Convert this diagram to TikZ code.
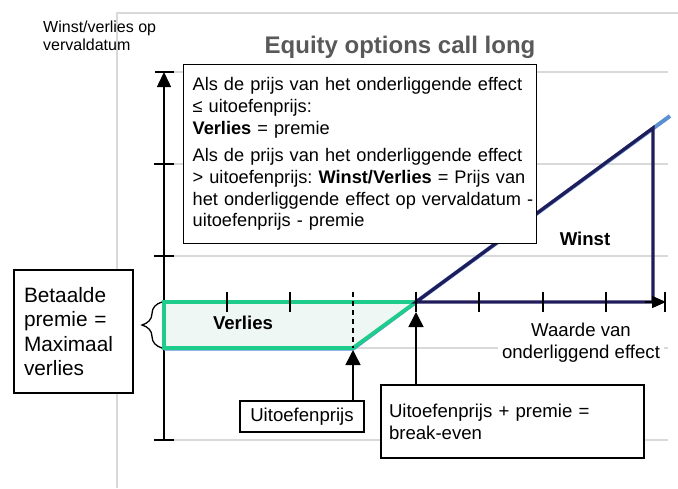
\documentclass[tikz,border=0pt]{standalone}
\usepackage{fontspec}
\setmainfont{Liberation Sans}
\usetikzlibrary{arrows.meta,decorations.pathreplacing}
\definecolor{gridgray}{RGB}{217,217,217}
\definecolor{lossgreen}{RGB}{30,204,140}
\definecolor{lossfill}{RGB}{239,247,244}
\definecolor{payblue}{RGB}{91,143,210}
\definecolor{winnavy}{RGB}{32,28,90}
\definecolor{titlegray}{RGB}{89,89,89}
\begin{document}
\begin{tikzpicture}[x=1pt,y=-1pt,
  body/.style={font=\fontsize{18.6}{21.7}\selectfont},
  boldbody/.style={font=\bfseries\fontsize{18.6}{21.7}\selectfont},
  boxnode/.style={draw=black, line width=1.3pt, fill=white, body, inner sep=0pt},
  gridline/.style={gridgray, line width=1.5pt},
  axisline/.style={black, line width=1.5pt},
  tickmark/.style={black, line width=1.5pt},
  ptr/.style={black, line width=1.5pt, -{Triangle[length=15pt,width=15pt]}},
]
\useasboundingbox (0,0) rectangle (678,488);
% chart frame and grid
\draw[gridline, line width=2pt] (117,488) -- (117,13) -- (678,13);
\foreach \y in {72,164,256,348,440} \draw[gridline] (164,\y) -- (668,\y);
% key points
\coordinate (origin) at (164,302);
\coordinate (strike) at (353,348);
\coordinate (be) at (416,302);
\coordinate (peak) at (653,128);
\coordinate (peakbase) at (653,302);
\coordinate (striketip) at (353,350);
\coordinate (betip) at (416,312);
% axes
\draw[axisline, -{Triangle[length=15pt,width=14pt]}] (164,440) -- (164,72);
\draw[axisline] (155,72) -- (174,72);
\draw[axisline] (154,440) -- (174,440);
\foreach \y in {164,256} \draw[tickmark] (154,\y) -- (174,\y);
\draw[axisline] (origin) -- (660,302);
% payoff line
\draw[payblue, line width=4pt] (164,348.7) -- (353,348.7) -- (be) -- (670,116);
% loss area
\draw[lossgreen, fill=lossfill, line width=3.8pt] (origin) -- (be) -- (strike) -- (164,348) -- cycle;
% profit triangle
\draw[winnavy, line width=3.2pt, line join=miter] (be) -- (peak) -- (peakbase) -- cycle;
\draw[axisline, -{Triangle[length=14pt,width=12pt]}] (645,302) -- (666,302);
\draw[axisline] (665,292) -- (665,312);
% dashed strike marker and ticks
\draw[black, line width=1.6pt, dash pattern=on 5pt off 4pt] (353,292) -- (strike);
\foreach \x in {227,290,416,479,543,606} \draw[tickmark] (\x,292) -- (\x,312);
% brace
\draw[black, line width=1.3pt, decorate, decoration={brace, amplitude=20pt}] (162,348) -- (162,302);
% labels
\node[anchor=base, font=\bfseries\fontsize{24}{28}\selectfont, text=titlegray] (title) at (400,53) {Equity options call long};
\node[anchor=west, align=left, font=\fontsize{16}{18}\selectfont, inner sep=0pt] (ylabel) at (43,36) {Winst/verlies op\\vervaldatum};
\node[boldbody] (verlies) at (243,323) {Verlies};
\node[boldbody] (winst) at (585,239) {Winst};
\node[body, fill=white, align=center, inner xsep=4pt, inner ysep=1pt] (xlabel) at (581,342.5) {Waarde van\\onderliggend effect};
% boxes
\node[boxnode, font=\fontsize{18.2}{21.7}\selectfont, anchor=north west, minimum width=353pt, minimum height=179pt, text width=335pt, align=left] (rule) at (183,64)
 {\mbox{Als de prijs van het onderliggende effect}\\
  \mbox{≤ uitoefenprijs:}\\
  \mbox{\textbf{Verlies} = premie}\\[6pt]
  \mbox{Als de prijs van het onderliggende effect}\\
  \mbox{> uitoefenprijs:~\textbf{Winst/Verlies}~= Prijs van}\\
  \mbox{het onderliggende effect op vervaldatum -}\\
  \mbox{uitoefenprijs - premie}};
\node[boxnode, font=\fontsize{20.8}{24.5}\selectfont, minimum width=119pt, minimum height=123pt, text width=99pt, align=left] (prem) at (73.5,331.5)
 {Betaalde\\premie =\\Maximaal\\verlies};
\node[boxnode, minimum width=124pt, minimum height=31pt] (strikebox) at (302,416.5) {Uitoefenprijs};
\node[boxnode, minimum width=263pt, minimum height=73pt, text width=247pt, align=left] (bebox) at (512.5,421.5)
 {Uitoefenprijs + premie =\\break-even};
% pointers
\draw[ptr] (strikebox.north -| striketip) -- (striketip);
\draw[ptr] (bebox.north -| betip) -- (betip);
\end{tikzpicture}
\end{document}
